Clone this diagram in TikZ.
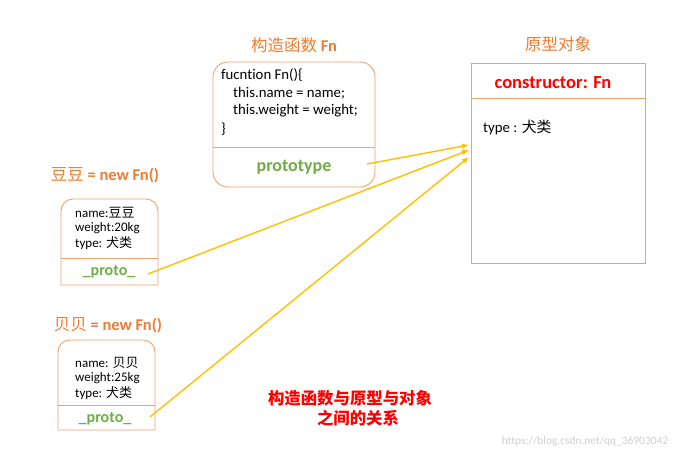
\documentclass[tikz,border=0pt]{standalone}
\usepackage{fontspec}
\setmainfont{Carlito}[Ligatures=NoCommon]
\newfontfamily\cjk{Noto Sans CJK SC}
\usetikzlibrary{arrows.meta}
\definecolor{orng}{HTML}{ED7D31}
\definecolor{bord}{HTML}{F0A06A}
\definecolor{grn}{HTML}{70AD47}
\definecolor{gold}{HTML}{FFC000}
\definecolor{wm}{HTML}{D0D0D0}
\tikzset{
  box/.style={draw=bord, line width=0.9pt},
  title/.style={text=orng, font=\fontsize{16.5}{18}\selectfont, inner sep=0pt},
  code/.style={anchor=west, font=\fontsize{14.8}{16}\selectfont, inner sep=0pt},
  small/.style={anchor=west, font=\fontsize{13}{15}\selectfont, inner sep=0pt},
  protot/.style={text=grn, font=\fontsize{18}{20}\selectfont\bfseries, inner sep=0pt},
  protos/.style={text=grn, font=\fontsize{16}{18}\selectfont\bfseries, inner sep=0pt},
  link/.style={draw=gold, line width=1.4pt, -{Latex[length=7pt,width=6pt]}},
  note/.style={text=red, font=\fontsize{16.4}{19}\selectfont\bfseries, inner sep=0pt, align=center}
}
\begin{document}
\begin{tikzpicture}[x=1pt,y=-1pt]
\useasboundingbox[fill=white] (0,0) rectangle (685,456);

% constructor Fn
\node[title] (tfn) at (294,45) {{\cjk 构造函数} \textbf{Fn}};
\draw[box, rounded corners=15pt] (213,62) rectangle (375,187);
\draw[box] (213,147) -- (375,147);
\node[code] (c1) at (221,75) {fucntion Fn()\{};
\node[code] (c2) at (233,93) {this.name = name;};
\node[code] (c3) at (233,111) {this.weight = weight;};
\node[code] (c4) at (221,129) {\}};
\node[protot] (proto) at (294,167) {prototype};

% prototype object
\node[title] (tpo) at (558,44) {\cjk 原型对象};
\draw[box] (471,63) rectangle (645,263);
\draw[box] (471,98) -- (645,98);
\node[text=red, font=\fontsize{18.5}{20}\selectfont\bfseries, inner sep=0pt] (ctor) at (553,83) {constructor: Fn};
\node[code] (ptype) at (483,127) {type : {\cjk 犬类}};

% object 1
\node[title] (to1) at (105,175) {{\cjk 豆豆} \textbf{= new Fn()}};
\draw[box] (61,285) -- (61,211) arc[start angle=180, end angle=90, radius=12pt]
  -- (146,199) arc[start angle=90, end angle=0, radius=12pt] -- (158,285) -- cycle;
\draw[box] (61,258) -- (158,258);
\node[small] (o1a) at (75,213) {name:{\cjk 豆豆}};
\node[small] (o1b) at (75,228) {weight:20kg};
\node[small] (o1c) at (75,243) {type: {\cjk 犬类}};
\node[protos] (p1) at (109,272) {\_proto\_};

% object 2
\node[title] (to2) at (108,325) {{\cjk 贝贝} \textbf{= new Fn()}};
\draw[box] (58,430) -- (58,352) arc[start angle=180, end angle=90, radius=12pt]
  -- (143,340) arc[start angle=90, end angle=0, radius=12pt] -- (155,430) -- cycle;
\draw[box] (58,405) -- (155,405);
\node[small] (o2a) at (75,363) {name: {\cjk 贝贝}};
\node[small] (o2b) at (75,378) {weight:25kg};
\node[small] (o2c) at (75,393) {type: {\cjk 犬类}};
\node[protos] (p2) at (105,419) {\_proto\_};

% links
\coordinate (s0) at (367,164);
\coordinate (e0) at (469,145);
\coordinate (s1) at (148,274);
\coordinate (e1) at (469,150);
\coordinate (s2) at (150,417);
\coordinate (e2) at (469,157);
\draw[link] (s0) -- (e0);
\draw[link] (s1) -- (e1);
\draw[link] (s2) -- (e2);

% notes
\node[note] (n1) at (350,398) {\cjk 构造函数与原型与对象};
\node[note] (n2) at (358,418) {\cjk 之间的关系};
\node[text=wm, font=\fontsize{11.4}{13}\selectfont, inner sep=0pt] (wmk) at (585,442) {https://blog.csdn.net/qq\_36903042};
\end{tikzpicture}
\end{document}
